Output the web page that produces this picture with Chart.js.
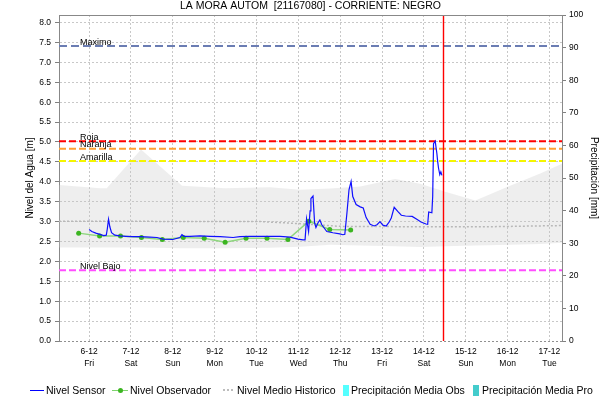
<!DOCTYPE html>
<html lang="es">
<head>
<meta charset="UTF-8">
<title>LA MORA AUTOM – Nivel del Agua</title>
<script src="https://cdn.jsdelivr.net/npm/chart.js"></script>
<style>
  html, body { margin: 0; padding: 0; background: #fff; }
  .wrap { position: relative; width: 607px; height: 404px; font-family: "Liberation Sans", Arial, sans-serif; }
  canvas { display: block; }
  .legend { position: absolute; left: 0; top: 383px; width: 607px; height: 15px; font-size: 10.5px; color: #000; }
  .legend .txt { position: absolute; top: 0; line-height: 15px; white-space: nowrap; }
  .legend .sym { position: absolute; }
  .sensor { left: 30px; top: 7px; width: 14px; height: 1px; background: #0000ff; }
  .obs { left: 112px; top: 7px; width: 16px; height: 1px; background: #7fd36f; }
  .obs-dot { left: 118px; top: 5px; width: 5px; height: 5px; border-radius: 50%; background: #3cb521; }
  .medio { left: 223px; top: 6px; width: 10px; height: 0; border-top: 2px dotted #bdbdbd; }
  .box-obs { left: 343px; top: 2px; width: 6px; height: 11px; background: #55ffff; }
  .box-pro { left: 473px; top: 2px; width: 6px; height: 11px; background: #44cccc; }
</style>
</head>
<body>
<div class="wrap">
  <canvas id="nivel" width="607" height="404"></canvas>
  <div class="legend">
    <span class="sym sensor"></span><span class="txt" style="left:46px">Nivel Sensor</span>
    <span class="sym obs"></span><span class="sym obs-dot"></span><span class="txt" style="left:130px">Nivel Observador</span>
    <span class="sym medio"></span><span class="txt" style="left:237px">Nivel Medio Historico</span>
    <span class="sym box-obs"></span><span class="txt" style="left:351px">Precipitación Media Obs</span>
    <span class="sym box-pro"></span><span class="txt" style="left:482px">Precipitación Media Pro</span>
  </div>
</div>
<script>
  // time axis in days counted from 6-12 00:00
  const dayLabels = ['6-12', '7-12', '8-12', '9-12', '10-12', '11-12', '12-12', '13-12', '14-12', '15-12', '16-12', '17-12'];
  const weekDays = ['Fri', 'Sat', 'Sun', 'Mon', 'Tue', 'Wed', 'Thu', 'Fri', 'Sat', 'Sun', 'Mon', 'Tue'];
  const dayMin = -0.72, dayMax = 11.3;
  const nowDay = 8.455;

  // sensor level [m]
  const sensorDays = [0.00, 0.065, 0.16, 0.26, 0.35, 0.41, 0.435, 0.464, 0.495, 0.536, 0.615, 0.734, 0.878, 1.045, 1.213,
    1.452, 1.62, 1.763, 2.00, 2.17, 2.218, 2.266, 2.41, 2.65, 2.89, 3.13, 3.44, 3.605, 3.845, 4.08, 4.32, 4.56, 4.80, 4.99,
    5.11, 5.16, 5.196, 5.244, 5.28, 5.30, 5.35, 5.388, 5.42, 5.47, 5.514, 5.56, 5.68, 5.825, 5.99, 6.065, 6.11, 6.16, 6.21,
    6.26, 6.30, 6.38, 6.478, 6.55, 6.62, 6.715, 6.81, 6.88, 6.95, 7.02, 7.10, 7.17, 7.22, 7.29, 7.38, 7.46, 7.56, 7.72,
    7.84, 7.93, 8.05, 8.09, 8.115, 8.19, 8.21, 8.23, 8.27, 8.31, 8.33, 8.35, 8.38, 8.405, 8.43];
  const sensorLevels = [2.80, 2.75, 2.71, 2.68, 2.65, 2.66, 2.82, 3.06, 2.87, 2.72, 2.66, 2.64, 2.63, 2.62, 2.62,
    2.61, 2.60, 2.56, 2.55, 2.60, 2.67, 2.63, 2.63, 2.64, 2.63, 2.62, 2.60, 2.62, 2.63, 2.63, 2.63, 2.63, 2.61, 2.56,
    2.54, 2.54, 3.07, 2.75, 3.27, 3.58, 3.64, 2.97, 2.85, 2.97, 3.04, 2.92, 2.75, 2.72, 2.69, 2.67, 2.68, 3.21, 3.80,
    4.01, 3.63, 3.43, 3.37, 3.34, 3.10, 2.93, 2.89, 2.92, 3.00, 2.91, 2.89, 2.99, 3.09, 3.36, 3.25, 3.16, 3.14, 3.13,
    3.05, 2.99, 2.94, 2.93, 3.24, 3.22, 3.63, 4.96, 5.02, 4.71, 4.50, 4.34, 4.18, 4.25, 4.16];

  // observer readings, 06:00 and 18:00
  const obsDays = [-0.25, 0.25, 0.75, 1.25, 1.75, 2.25, 2.75, 3.25, 3.75, 4.25, 4.75, 5.25, 5.75, 6.25];
  const obsLevels = [2.71, 2.64, 2.64, 2.60, 2.55, 2.60, 2.58, 2.48, 2.58, 2.58, 2.55, 3.01, 2.80, 2.79];

  // historical mean and historical range
  const meanDays = [-0.72, 4.1, 5.0, 6.0, 7.9, 9.5, 11.3];
  const meanLevels = [3.01, 3.00, 2.95, 2.88, 2.87, 2.87, 2.90];
  const bandDays = [-0.72, 0.26, 0.42, 1.24, 2.22, 3.25, 4.32, 5.04, 5.76, 6.48, 7.31, 7.91, 8.51, 9.23, 10.06, 10.78, 11.3];
  const bandUpper = [3.92, 3.84, 3.84, 4.81, 3.90, 3.84, 3.86, 3.80, 3.83, 3.88, 4.07, 3.95, 3.75, 3.53, 3.90, 4.21, 4.45];
  const bandLower = [2.35, 2.35, 2.35, 2.35, 2.33, 2.33, 2.34, 2.37, 2.42, 2.40, 2.38, 2.36, 2.38, 2.40, 2.42, 2.44, 2.47];

  // alert thresholds [m]
  const thresholdNames = ['Maximo', 'Roja', 'Naranja', 'Amarilla', 'Nivel Bajo'];
  const thresholdValues = [7.41, 5.02, 4.83, 4.52, 1.78];
  const thresholdColors = ['#6b7db3', '#ff0000', '#ffa033', '#f5f500', '#ff4dff'];

  const pts = (xs, ys) => xs.map((d, i) => ({ x: d, y: ys[i] }));

  const thresholdSets = thresholdValues.map((v, i) => ({
    label: thresholdNames[i],
    data: [{ x: dayMin, y: v }, { x: dayMax, y: v }],
    borderColor: thresholdColors[i],
    borderWidth: 2,
    borderDash: i === 0 ? [8, 4] : [7, 3],
    pointRadius: 0,
    order: 3
  }));

  // threshold names, "now" marker and the top frame line
  const marcas = {
    id: 'marcas',
    afterDatasetsDraw(chart) {
      const { ctx, chartArea: a, scales: { x, y } } = chart;
      ctx.save();
      ctx.font = '9px "Liberation Sans", Arial, sans-serif';
      ctx.fillStyle = '#000';
      ctx.textBaseline = 'alphabetic';
      thresholdNames.forEach((n, i) => {
        ctx.fillText(n, a.left + 21, y.getPixelForValue(thresholdValues[i]) - 1.5);
      });
      const nx = Math.round(x.getPixelForValue(nowDay)) + 0.5;
      ctx.strokeStyle = '#ff0000';
      ctx.lineWidth = 1.4;
      ctx.beginPath(); ctx.moveTo(nx, a.top); ctx.lineTo(nx, a.bottom); ctx.stroke();
      ctx.strokeStyle = '#888';
      ctx.lineWidth = 1;
      ctx.beginPath(); ctx.moveTo(a.left, a.top + 0.5); ctx.lineTo(a.right, a.top + 0.5); ctx.stroke();
      ctx.restore();
    }
  };

  Chart.defaults.font.family = '"Liberation Sans", Arial, sans-serif';
  Chart.defaults.color = '#000';

  new Chart(document.getElementById('nivel'), {
    type: 'line',
    data: {
      datasets: [
        { label: 'Nivel Sensor', data: pts(sensorDays, sensorLevels), borderColor: '#1010ff', borderWidth: 1.2,
          pointRadius: 0, order: 0 },
        { label: 'Nivel Observador', data: pts(obsDays, obsLevels), borderColor: '#8fd67f', borderWidth: 1.5,
          pointRadius: 2.5, pointBackgroundColor: '#3cb521', pointBorderColor: '#3cb521', pointBorderWidth: 0, order: 1 },
        { label: 'Nivel Medio Historico', data: pts(meanDays, meanLevels), borderColor: '#b8b8b8', borderWidth: 1.5,
          borderDash: [2, 2], pointRadius: 0, order: 2 },
        ...thresholdSets,
        { label: 'rango max', data: pts(bandDays, bandUpper), borderWidth: 0, pointRadius: 0,
          fill: '+1', backgroundColor: 'rgba(200,200,200,0.3)', order: 4 },
        { label: 'rango min', data: pts(bandDays, bandLower), borderWidth: 0, pointRadius: 0, fill: false, order: 5 }
      ]
    },
    options: {
      responsive: false,
      animation: false,
      devicePixelRatio: 1,
      layout: { padding: 0 },
      plugins: {
        legend: { display: false },
        tooltip: { enabled: false },
        title: {
          display: true,
          fullSize: false,
          text: 'LA MORA AUTOM  [21167080] - CORRIENTE: NEGRO',
          font: { size: 10.5, weight: 'normal' },
          color: '#000',
          padding: { top: 0, bottom: 2.4 }
        }
      },
      scales: {
        x: {
          type: 'linear',
          min: dayMin,
          max: dayMax,
          afterBuildTicks: s => { s.ticks = dayLabels.map((_, i) => ({ value: i })); },
          afterFit: s => { s.height = 63; },
          ticks: {
            autoSkip: false,
            maxRotation: 0,
            padding: 5,
            font: { size: 8.5, lineHeight: 1.4 },
            callback: v => [dayLabels[Math.round(v)], weekDays[Math.round(v)]]
          },
          grid: { color: '#c8c8c8', drawTicks: false },
          border: { display: false, dash: [2, 2] }
        },
        y: {
          position: 'left',
          min: 0,
          max: 8.19,
          afterBuildTicks: s => {
            s.ticks = [];
            for (let v = 0; v <= 8; v += 0.5) s.ticks.push({ value: v });
          },
          afterFit: s => { s.width = 59; },
          ticks: { padding: 4, font: { size: 8.5 }, callback: v => v.toFixed(1) },
          grid: {
            color: c => (c.tick && c.tick.value === 0 ? '#909090' : '#c8c8c8'),
            tickLength: 4,
            tickColor: '#808080'
          },
          border: { color: '#888', dash: [2, 2] },
          title: { display: true, text: 'Nivel del Agua [m]', font: { size: 10 }, padding: { top: 24 } }
        },
        y2: {
          position: 'right',
          min: 0,
          max: 100,
          ticks: { stepSize: 10, padding: 3, font: { size: 8.5 } },
          afterFit: s => { s.width = 45; },
          grid: { drawOnChartArea: false, tickLength: 4, color: '#808080' },
          border: { color: '#888' },
          title: { display: true, text: 'Precipitación [mm]', font: { size: 10 }, padding: { top: 7 } }
        }
      }
    },
    plugins: [marcas]
  });
</script>
</body>
</html>
